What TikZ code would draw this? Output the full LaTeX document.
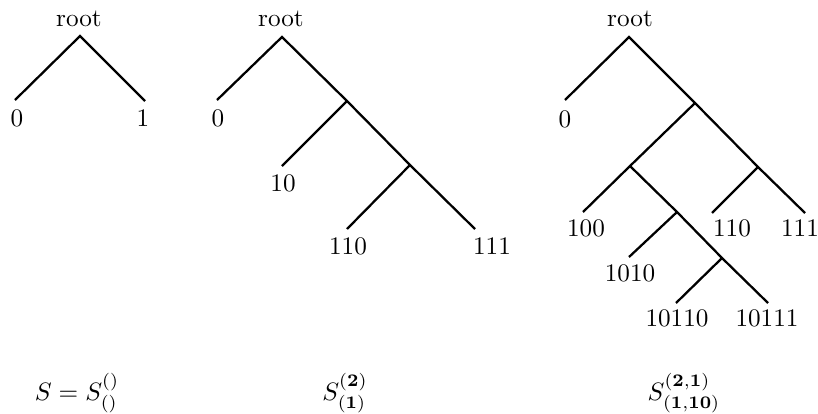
\documentclass[tikz,border=0pt]{standalone}
\usepackage{amsmath}
\begin{document}
\begin{tikzpicture}[x=0.3968pt,y=-0.3968pt,
  edge/.style={line width=0.9pt},
  lbl/.style={inner sep=0pt},
  captext/.style={inner sep=0pt,anchor=base}]
\useasboundingbox (0,0) rectangle (818,413);
% ---------- tree 1 ----------
\node[lbl] (r1) at (79,19) {root};
\coordinate (a1) at (80,36);
\coordinate (e10) at (15,100);
\coordinate (e11) at (145,101);
\node[lbl] (l10) at (17,118) {0};
\node[lbl] (l11) at (143,118) {1};
\draw[edge] (e10) -- (a1) -- (e11);
% ---------- tree 2 ----------
\node[lbl] (r2) at (281,19) {root};
\coordinate (a2) at (282,37);
\coordinate (b21) at (347,101);
\coordinate (b22) at (410,165);
\coordinate (e20) at (217,100);
\coordinate (e210) at (282,166);
\coordinate (e2110) at (347,229);
\coordinate (e2111) at (475,229);
\node[lbl] (l20) at (218,118) {0};
\node[lbl] (l210) at (283,183) {10};
\node[lbl] (l2110) at (348,246) {110};
\node[lbl] (l2111) at (492,246) {111};
\draw[edge] (e20) -- (a2) -- (b21) -- (b22) -- (e2111);
\draw[edge] (b21) -- (e210);
\draw[edge] (b22) -- (e2110);
% ---------- tree 3 ----------
\node[lbl] (r3) at (630,19) {root};
\coordinate (a3) at (629,37);
\coordinate (b31) at (695,103);
\coordinate (b32) at (630,166);
\coordinate (b33) at (758,167);
\coordinate (b34) at (677,212);
\coordinate (b35) at (722,258);
\coordinate (e30) at (565,100);
\coordinate (e3100) at (583,212);
\coordinate (e3110) at (712,213);
\coordinate (e3111) at (805,213);
\coordinate (e31010) at (629,257);
\coordinate (e310110) at (676,303);
\coordinate (e310111) at (768,303);
\node[lbl] (l30) at (565,119) {0};
\node[lbl] (l3100) at (586,228) {100};
\node[lbl] (l3110) at (732,228) {110};
\node[lbl] (l3111) at (800,228) {111};
\node[lbl] (l31010) at (630,273) {1010};
\node[lbl] (l310110) at (677,318) {10110};
\node[lbl] (l310111) at (767,318) {10111};
\draw[edge] (e30) -- (a3) -- (b31) -- (b33) -- (e3111);
\draw[edge] (b31) -- (b32) -- (e3100);
\draw[edge] (b32) -- (b34) -- (b35) -- (e310111);
\draw[edge] (b33) -- (e3110);
\draw[edge] (b34) -- (e31010);
\draw[edge] (b35) -- (e310110);
% ---------- captions ----------
\node[captext] (c1) at (77,400) {$S = S^{()}_{()}$};
\node[captext] (c2) at (345,400) {$S^{\mathbf{(2)}}_{\mathbf{(1)}}$};
\node[captext] (c3) at (684,400) {$S^{\mathbf{(2,1)}}_{\mathbf{(1,10)}}$};
\end{tikzpicture}
\end{document}
